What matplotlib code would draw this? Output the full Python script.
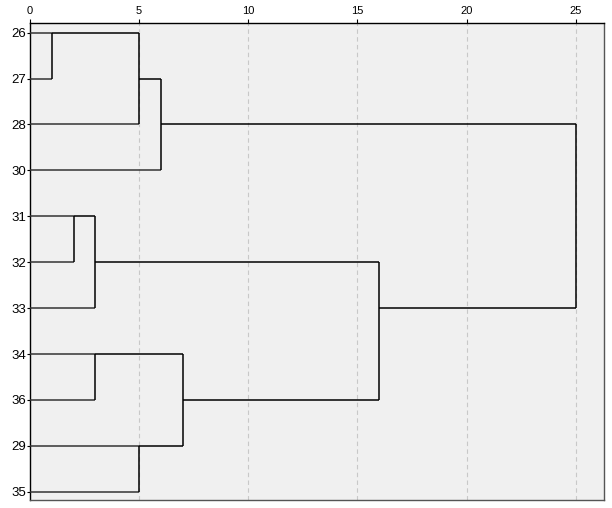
import numpy as np
import matplotlib
matplotlib.use('Agg')
import matplotlib.pyplot as plt

# Leaf order (top to bottom) and merge steps: (left cluster, right cluster, distance)
leaves = ['26', '27', '28', '30', '31', '32', '33', '34', '36', '29', '35']
merges = [
    ('26', '27', 1),
    ('C1', '28', 5),
    ('C2', '30', 6),
    ('31', '32', 2),
    ('C4', '33', 3),
    ('34', '36', 3),
    ('29', '35', 5),
    ('C6', 'C7', 7),
    ('C5', 'C8', 16),
    ('C3', 'C9', 25),
]
xticks = [0, 5, 10, 15, 20, 25]

plt.rcParams['font.family'] = ['Liberation Sans', 'DejaVu Sans']

fig = plt.figure(figsize=(6.12, 5.08), dpi=100)
ax = fig.add_axes([30 / 612, 1 - 500 / 508, 574 / 612, 477 / 508])
ax.set_facecolor('#f0f0f0')

# row position and current x of every node
pos = {name: i for i, name in enumerate(leaves)}
xpos = {name: 0 for name in leaves}

for k, (a, b, d) in enumerate(merges, start=1):
    for n in (a, b):
        col = '#333333' if n in leaves else 'black'
        ax.plot([xpos[n], d], [pos[n], pos[n]], color=col, lw=1.1,
                solid_capstyle='butt', zorder=3)
    ax.plot([d, d], [pos[a], pos[b]], color='black', lw=1.1,
            solid_capstyle='butt', zorder=3)
    name = 'C%d' % k
    pos[name] = (pos[a] + pos[b]) // 2
    xpos[name] = d

for x in xticks[1:]:
    ax.axvline(x, color='#c8c8c8', lw=0.8, ls=(0, (4, 3)), zorder=1)

ax.set_xlim(0, 26.3)
ax.set_ylim(len(leaves) - 1 + 0.18, -0.21)
ax.set_yticks(range(len(leaves)))
ax.set_yticklabels(leaves)
ax.set_xticks(xticks)
ax.xaxis.tick_top()
ax.tick_params(axis='x', length=3, pad=2, labelsize=8, color='black')
ax.tick_params(axis='y', length=2, pad=0.5, labelsize=9.5, color='black')

for s in ax.spines.values():
    s.set_linewidth(1.0)
    s.set_color('#555555')
ax.spines['left'].set_color('black')
ax.spines['top'].set_color('black')

fig.savefig('out.png', dpi=100)
